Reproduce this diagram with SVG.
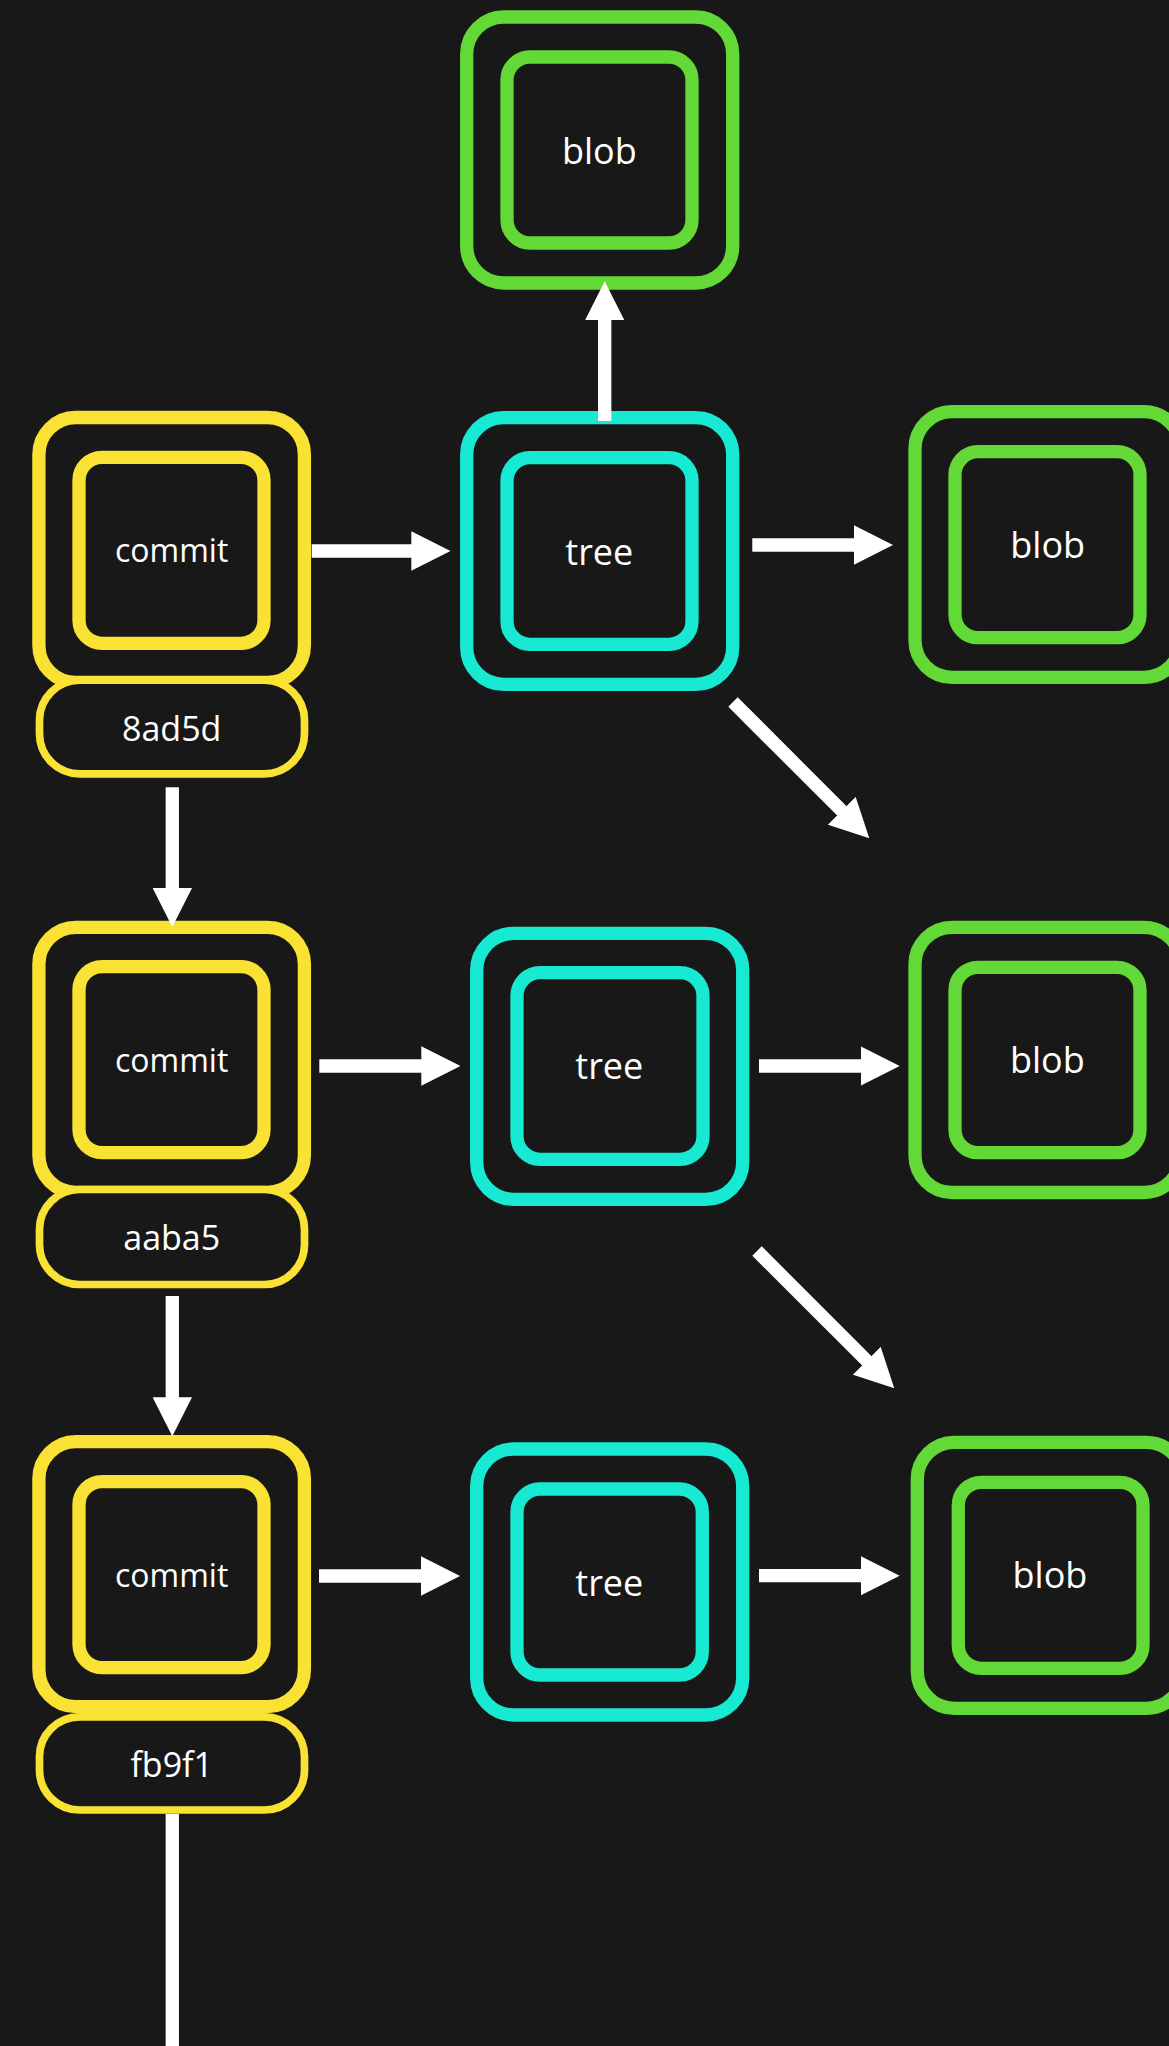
<svg xmlns="http://www.w3.org/2000/svg" width="1169" height="2046" viewBox="0 0 1169 2046">
<style>
.bg{fill:#181818}
.ring{fill:none;stroke-width:13.3}
.commit .ring{stroke:#F9E233}
.tree .ring{stroke:#17E9D3}
.blob .ring{stroke:#62D937}
.pill{fill:#181818;stroke:#F9E233;stroke-width:7.7}
.lbl{font-family:"Open Sans","Noto Sans","Liberation Sans",sans-serif;fill:#FFFFFF;text-anchor:middle}
.big{font-size:36px}
.cm{font-size:32px}
.hash{font-size:34px}
.conn{stroke:#FFFFFF;stroke-width:13.3;fill:none}
</style>
<defs>
<marker id="head" viewBox="0 0 39 39.4" markerWidth="39" markerHeight="39.4" refX="1" refY="19.7" markerUnits="userSpaceOnUse" orient="auto">
<path d="M0,0 L39,19.7 L0,39.4 Z" fill="#FFFFFF"/>
</marker>
</defs>
<rect class="bg" x="0" y="0" width="1169" height="2046"/>

<g id="blob-top" class="blob">
<rect class="ring" x="466.7" y="17" width="266" height="266" rx="37"/>
<rect class="ring" x="507" y="57" width="185" height="186" rx="23"/>
<text class="lbl big" x="599.3" y="164">blob</text>
</g>

<g id="commit-8ad5d" class="commit">
<rect class="ring" x="38.9" y="417.5" width="265.5" height="265" rx="37"/>
<rect class="ring" x="79" y="457.3" width="185" height="186" rx="23"/>
<text class="lbl cm" x="171.7" y="561.7">commit</text>
<rect class="pill" x="39.5" y="680.2" width="265" height="93.6" rx="40"/>
<text class="lbl hash" x="171.7" y="740.7">8ad5d</text>
</g>

<g id="tree-1" class="tree">
<rect class="ring" x="466.7" y="417.7" width="266" height="266.6" rx="37"/>
<rect class="ring" x="507" y="457.7" width="185" height="186.6" rx="23"/>
<text class="lbl big" x="599.3" y="565">tree</text>
</g>

<g id="blob-1" class="blob">
<rect class="ring" x="915" y="411.7" width="266" height="265.6" rx="37"/>
<rect class="ring" x="955" y="451.7" width="185" height="186" rx="23"/>
<text class="lbl big" x="1047.7" y="557.7">blob</text>
</g>

<g id="commit-aaba5" class="commit">
<rect class="ring" x="38.9" y="927.3" width="265.5" height="265" rx="37"/>
<rect class="ring" x="79" y="966.6" width="185" height="186" rx="23"/>
<text class="lbl cm" x="171.7" y="1071.7">commit</text>
<rect class="pill" x="39.5" y="1189.5" width="265" height="95" rx="40"/>
<text class="lbl hash" x="171.7" y="1250">aaba5</text>
</g>

<g id="tree-2" class="tree">
<rect class="ring" x="476.7" y="933.3" width="266" height="266" rx="37"/>
<rect class="ring" x="517" y="972.7" width="186" height="186.6" rx="23"/>
<text class="lbl big" x="609.3" y="1079">tree</text>
</g>

<g id="blob-2" class="blob">
<rect class="ring" x="915" y="927.3" width="266" height="265.2" rx="37"/>
<rect class="ring" x="955" y="967.3" width="185" height="185.4" rx="23"/>
<text class="lbl big" x="1047.3" y="1073.3">blob</text>
</g>

<g id="commit-fb9f1" class="commit">
<rect class="ring" x="38.9" y="1441.7" width="265.5" height="265" rx="37"/>
<rect class="ring" x="79" y="1481.6" width="185" height="186" rx="23"/>
<text class="lbl cm" x="171.7" y="1587">commit</text>
<rect class="pill" x="39.5" y="1716.8" width="265" height="93.2" rx="40"/>
<text class="lbl hash" x="171.7" y="1777">fb9f1</text>
</g>

<g id="tree-3" class="tree">
<rect class="ring" x="476.7" y="1449" width="266" height="266" rx="37"/>
<rect class="ring" x="517" y="1489" width="185.3" height="186" rx="23"/>
<text class="lbl big" x="609.3" y="1595.7">tree</text>
</g>

<g id="blob-3" class="blob">
<rect class="ring" x="917.3" y="1442.3" width="266" height="266" rx="37"/>
<rect class="ring" x="958.3" y="1482.3" width="184.7" height="186" rx="23"/>
<text class="lbl big" x="1050" y="1588.3">blob</text>
</g>

<g id="connectors">
<line class="conn" x1="311.7" y1="551" x2="412.3" y2="551" marker-end="url(#head)"/>
<line class="conn" x1="752.3" y1="545" x2="855" y2="545" marker-end="url(#head)"/>
<line class="conn" x1="604.7" y1="421" x2="604.7" y2="319.3" marker-end="url(#head)"/>
<line class="conn" x1="733" y1="702" x2="842.4" y2="811.4" marker-end="url(#head)"/>
<line class="conn" x1="172.3" y1="787.3" x2="172.3" y2="889" marker-end="url(#head)"/>
<line class="conn" x1="319.3" y1="1066" x2="422.3" y2="1066" marker-end="url(#head)"/>
<line class="conn" x1="759" y1="1066" x2="861.7" y2="1066" marker-end="url(#head)"/>
<line class="conn" x1="757" y1="1251" x2="867.4" y2="1361.4" marker-end="url(#head)"/>
<line class="conn" x1="172.3" y1="1296" x2="172.3" y2="1398.3" marker-end="url(#head)"/>
<line class="conn" x1="319" y1="1576" x2="422" y2="1576" marker-end="url(#head)"/>
<line class="conn" x1="759" y1="1575.7" x2="861.7" y2="1575.7" marker-end="url(#head)"/>
<line class="conn" x1="172.3" y1="1814" x2="172.3" y2="2046"/>
</g>
</svg>
